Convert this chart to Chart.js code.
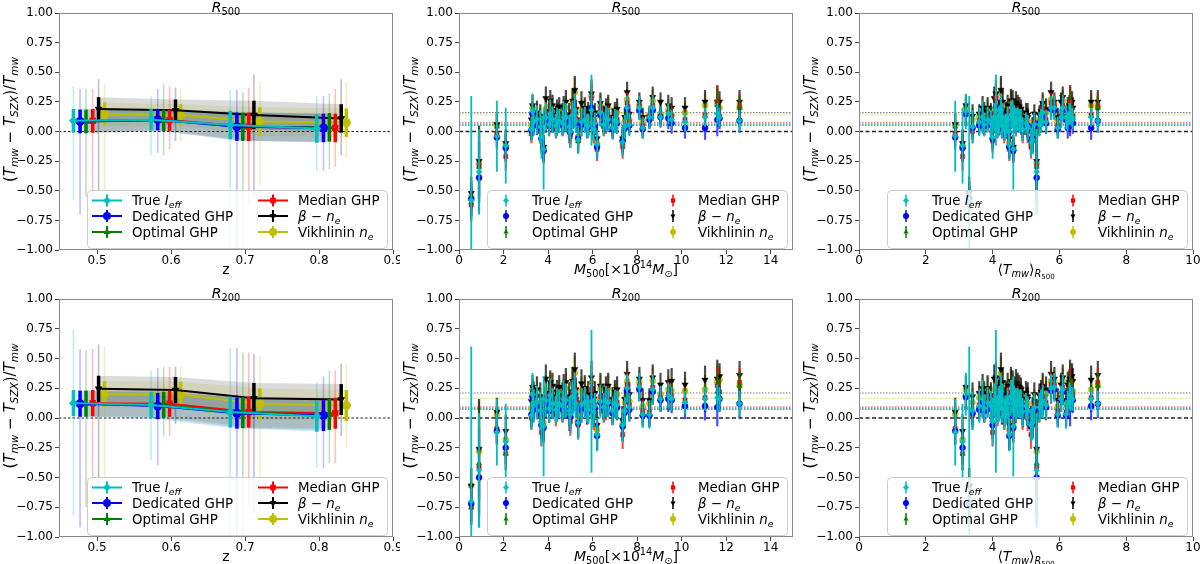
<!DOCTYPE html>
<html>
<head>
<meta charset="utf-8">
<script src="https://cdn.jsdelivr.net/npm/chart.js@4.4.1/dist/chart.umd.min.js"></script>
<style>
  html, body { margin: 0; padding: 0; background: #fff; }
  #wrap { position: relative; width: 1200px; height: 564px; }
  canvas { position: absolute; }
</style>
</head>
<body>
<div id="wrap">
  <canvas id="c1" width="400" height="282" style="left:0;top:0"></canvas>
  <canvas id="c2" width="400" height="282" style="left:400px;top:0"></canvas>
  <canvas id="c3" width="400" height="282" style="left:800px;top:0"></canvas>
  <canvas id="c4" width="400" height="282" style="left:0;top:282px"></canvas>
  <canvas id="c5" width="400" height="282" style="left:400px;top:282px"></canvas>
  <canvas id="c6" width="400" height="282" style="left:800px;top:282px"></canvas>
</div>
<script>
// ---- ticks ----
const yTicks = [-1, -0.75, -0.5, -0.25, 0, 0.25, 0.5, 0.75, 1];
const yTickLabels = ['−1.00', '−0.75', '−0.50', '−0.25', '0.00', '0.25', '0.50', '0.75', '1.00'];
const zTicks = [0.5, 0.6, 0.7, 0.8, 0.9];
const zTickLabels = ['0.5', '0.6', '0.7', '0.8', '0.9'];
const massTicks = [0, 2, 4, 6, 8, 10, 12, 14];
const massTickLabels = ['0', '2', '4', '6', '8', '10', '12', '14'];
const tempTicks = [0, 2, 4, 6, 8, 10];
const tempTickLabels = ['0', '2', '4', '6', '8', '10'];

// ---- redshift bins (left panels), one array per method ----
const zTrue = [0.468, 0.573, 0.680, 0.797];
const zDed  = [0.477, 0.582, 0.689, 0.806];
const zOpt  = [0.485, 0.590, 0.697, 0.814];
const zMed  = [0.494, 0.598, 0.705, 0.822];
const zBeta = [0.502, 0.606, 0.712, 0.830];
const zVik  = [0.510, 0.613, 0.720, 0.837];

const binTrue500 = [0.09, 0.10, 0.055, 0.025];
const binDed500  = [0.085, 0.10, 0.04, 0.03];
const binOpt500  = [0.085, 0.095, 0.04, 0.035];
const binMed500  = [0.09, 0.095, 0.04, 0.03];
const binBeta500 = [0.19, 0.18, 0.14, 0.11];
const binVik500  = [0.145, 0.14, 0.085, 0.075];
const sig500 = [0.10, 0.09, 0.12, 0.12];
const out500Lo = [[-0.58, -0.20, -1.0, -0.33], [-0.70, -0.18, -1.0, -0.33], [-0.55, -0.20, -1.0, -0.32],
                  [-0.55, -0.15, -0.62, -0.30], [-0.50, -0.08, -0.55, -0.20], [-0.50, -0.08, -0.45, -0.22]];
const out500Hi = [[0.38, 0.30, 0.35, 0.30], [0.36, 0.36, 0.35, 0.30], [0.36, 0.40, 0.33, 0.32],
                  [0.36, 0.38, 0.37, 0.36], [0.44, 0.37, 0.48, 0.44], [0.40, 0.36, 0.42, 0.42]];

const binTrue200 = [0.125, 0.11, 0.05, 0.015];
const binDed200  = [0.12, 0.10, 0.04, 0.02];
const binOpt200  = [0.12, 0.11, 0.045, 0.03];
const binMed200  = [0.125, 0.12, 0.05, 0.04];
const binBeta200 = [0.245, 0.235, 0.165, 0.155];
const binVik200  = [0.20, 0.195, 0.12, 0.105];
const sig200 = [0.11, 0.11, 0.13, 0.13];
const out200Lo = [[-0.82, -0.35, -1.0, -0.42], [-0.92, -0.40, -1.0, -0.42], [-0.75, -0.15, -1.0, -0.38],
                  [-0.75, -0.15, -0.75, -0.38], [-0.60, -0.05, -0.80, -0.15], [-0.55, -0.05, -0.80, -0.25]];
const out200Hi = [[0.74, 0.40, 0.59, 0.30], [0.58, 0.42, 0.59, 0.35], [0.57, 0.43, 0.55, 0.40],
                  [0.58, 0.43, 0.55, 0.40], [0.62, 0.43, 0.54, 0.46], [0.60, 0.43, 0.52, 0.45]];

// ---- individual clusters (middle and right panels) ----
const mass = [0.55, 0.90, 1.70, 2.10, 3.25, 3.30, 3.35, 3.50, 3.65, 3.70,
  3.80, 3.90, 4.05, 4.10, 4.20, 4.35, 4.40, 4.50, 4.65, 4.70,
  4.80, 4.95, 5.00, 5.10, 5.20, 5.25, 5.35, 5.50, 5.65, 5.75,
  5.80, 5.95, 6.05, 6.10, 6.20, 6.35, 6.50, 6.60, 6.70, 6.90,
  7.00, 7.10, 7.35, 7.45, 7.55, 7.65, 8.10, 8.25, 8.55, 8.70,
  9.05, 9.40, 9.55, 10.15, 11.05, 11.60, 11.70, 12.60];
const tmw = [3.30, 5.32, 2.88, 3.10, 4.35, 3.20, 3.60, 4.20, 3.40, 4.00,
  4.62, 4.05, 3.75, 4.60, 4.45, 4.15, 4.18, 4.80, 3.95, 3.70,
  4.30, 5.05, 4.48, 4.55, 4.25, 4.85, 5.20, 4.70, 3.85, 4.28,
  4.40, 4.10, 4.90, 5.00, 4.50, 5.50, 5.40, 4.65, 4.75, 5.05,
  5.45, 5.60, 5.15, 4.38, 5.75, 5.25, 5.85, 5.95, 6.20, 6.10,
  6.05, 6.30, 6.40, 6.25, 6.95, 6.32, 6.38, 7.15];

const c500 = [-0.58, -0.34, -0.04, -0.12, 0.02, 0.17, 0.08, 0.10, 0.04, -0.05,
  -0.15, 0.12, 0.06, 0.15, 0.10, 0.05, 0.08, 0.09, 0.07, 0.12,
  0.12, 0.04, 0.00, 0.14, 0.18, 0.09, -0.07, 0.08, 0.10, 0.05,
  0.05, 0.18, 0.02, 0.07, -0.11, 0.16, 0.06, 0.11, 0.10, 0.03,
  0.09, 0.08, -0.09, 0.04, 0.20, 0.06, 0.20, 0.03, 0.12, 0.20,
  0.12, 0.15, 0.10, 0.08, 0.12, 0.15, 0.12, 0.09];
const b500 = [-0.57, -0.39, -0.05, -0.14, 0.01, 0.15, 0.05, 0.07, 0.03, -0.06,
  -0.16, 0.09, 0.05, 0.13, 0.08, 0.06, 0.06, 0.07, 0.06, 0.10,
  0.10, 0.05, -0.01, 0.12, 0.16, 0.07, -0.06, 0.06, 0.09, 0.03,
  0.04, 0.20, 0.03, 0.05, -0.13, 0.14, 0.07, 0.09, 0.09, 0.02,
  0.08, 0.07, -0.08, 0.03, 0.19, 0.05, 0.18, 0.02, 0.10, 0.18,
  0.12, 0.11, 0.07, 0.03, 0.03, 0.10, 0.11, 0.09];
const g500 = [-0.60, -0.30, 0.04, -0.13, 0.00, 0.16, 0.07, 0.10, 0.05, -0.04,
  -0.15, 0.11, 0.07, 0.14, 0.09, 0.04, 0.08, 0.10, 0.08, 0.11,
  0.12, 0.03, 0.01, 0.13, 0.17, 0.09, -0.08, 0.09, 0.11, 0.05,
  0.06, 0.19, 0.01, 0.06, -0.12, 0.16, 0.05, 0.10, 0.11, 0.04,
  0.10, 0.08, -0.10, 0.05, 0.21, 0.07, 0.21, 0.04, 0.11, 0.19,
  0.13, 0.14, 0.11, 0.09, 0.13, 0.22, 0.13, 0.20];
const r500 = [-0.62, -0.29, -0.02, -0.21, -0.02, 0.14, 0.09, 0.08, 0.00, -0.08,
  -0.17, 0.15, 0.04, 0.17, 0.13, 0.02, 0.05, 0.11, 0.05, 0.09,
  0.14, 0.00, -0.04, 0.17, 0.20, 0.11, -0.08, 0.10, 0.12, 0.02,
  0.05, 0.28, -0.01, 0.08, -0.15, 0.19, 0.04, 0.07, 0.13, 0.02,
  0.07, 0.10, -0.13, 0.02, 0.24, 0.08, 0.22, 0.05, 0.13, 0.22,
  0.13, 0.16, 0.13, 0.10, 0.14, 0.25, 0.13, 0.22];
const k500 = [-0.52, -0.25, 0.06, -0.10, 0.10, 0.22, 0.15, 0.16, 0.13, 0.05,
  -0.13, 0.28, 0.17, 0.26, 0.22, 0.14, 0.18, 0.21, 0.15, 0.20,
  0.25, 0.14, 0.08, 0.26, 0.35, 0.19, 0.02, 0.24, 0.20, 0.13,
  0.16, 0.32, 0.12, 0.16, -0.06, 0.24, 0.14, 0.19, 0.22, 0.12,
  0.17, 0.19, -0.06, 0.12, 0.33, 0.15, 0.25, 0.12, 0.12, 0.29,
  0.25, 0.22, 0.20, 0.20, 0.25, 0.25, 0.25, 0.25];
const y500 = [-0.55, -0.27, 0.05, -0.12, 0.05, 0.20, 0.12, 0.14, 0.10, 0.00,
  -0.14, 0.19, 0.12, 0.22, 0.17, 0.10, 0.14, 0.17, 0.13, 0.16,
  0.20, 0.09, 0.04, 0.24, 0.33, 0.15, -0.04, 0.18, 0.18, 0.10,
  0.11, 0.30, 0.07, 0.12, -0.10, 0.22, 0.10, 0.15, 0.20, 0.08,
  0.14, 0.16, -0.08, 0.09, 0.27, 0.10, 0.22, 0.09, 0.14, 0.26,
  0.15, 0.18, 0.14, 0.16, 0.22, 0.23, 0.20, 0.20];
const eTrue500 = [0.88, 0.36, 0.30, 0.32, 0.10, 0.15, 0.12, 0.12, 0.14, 0.18,
  0.34, 0.12, 0.10, 0.12, 0.11, 0.10, 0.12, 0.10, 0.11, 0.14,
  0.12, 0.10, 0.14, 0.12, 0.14, 0.10, 0.12, 0.12, 0.11, 0.10,
  0.10, 0.30, 0.10, 0.09, 0.12, 0.12, 0.10, 0.11, 0.10, 0.10,
  0.10, 0.10, 0.12, 0.10, 0.10, 0.10, 0.10, 0.09, 0.10, 0.11,
  0.09, 0.09, 0.08, 0.08, 0.08, 0.09, 0.08, 0.09];
const e500 = [0.14, 0.30, 0.10, 0.12, 0.08, 0.09, 0.08, 0.10, 0.10, 0.10,
  0.10, 0.10, 0.08, 0.09, 0.09, 0.08, 0.09, 0.08, 0.09, 0.10,
  0.10, 0.10, 0.10, 0.10, 0.12, 0.08, 0.10, 0.10, 0.09, 0.08,
  0.09, 0.12, 0.09, 0.08, 0.10, 0.09, 0.08, 0.09, 0.09, 0.08,
  0.08, 0.09, 0.10, 0.08, 0.09, 0.08, 0.08, 0.08, 0.08, 0.09,
  0.08, 0.09, 0.09, 0.09, 0.10, 0.14, 0.09, 0.10];

const c200 = [-0.70, -0.44, -0.12, -0.20, 0.02, 0.20, 0.10, 0.13, 0.06, -0.03,
  -0.07, 0.15, 0.08, 0.19, 0.12, 0.07, 0.11, 0.12, 0.10, 0.16,
  0.15, 0.06, 0.03, 0.18, 0.22, 0.12, -0.04, 0.11, 0.13, 0.08,
  0.07, 0.14, 0.05, 0.10, -0.14, 0.14, 0.09, 0.14, 0.13, 0.06,
  0.12, 0.11, -0.06, 0.06, 0.25, 0.09, 0.26, 0.03, 0.03, 0.24,
  0.16, 0.19, 0.16, 0.13, 0.16, 0.17, 0.16, 0.12];
const b200 = [-0.72, -0.50, -0.11, -0.25, 0.03, 0.18, 0.07, 0.10, 0.04, -0.06,
  -0.08, 0.12, 0.06, 0.16, 0.10, 0.07, 0.08, 0.09, 0.08, 0.13,
  0.13, 0.06, 0.01, 0.15, 0.20, 0.10, -0.04, 0.08, 0.12, 0.05,
  0.06, 0.16, 0.05, 0.08, -0.15, 0.13, 0.09, 0.12, 0.12, 0.04,
  0.10, 0.09, -0.07, 0.05, 0.23, 0.07, 0.24, 0.02, 0.02, 0.22,
  0.15, 0.16, 0.15, 0.10, 0.10, 0.09, 0.16, 0.12];
const g200 = [-0.75, -0.38, -0.10, -0.30, 0.01, 0.19, 0.09, 0.12, 0.06, -0.03,
  -0.06, 0.14, 0.09, 0.18, 0.11, 0.06, 0.10, 0.13, 0.10, 0.15,
  0.15, 0.05, 0.03, 0.17, 0.21, 0.12, -0.05, 0.12, 0.14, 0.07,
  0.08, 0.15, 0.03, 0.09, -0.15, 0.15, 0.07, 0.13, 0.14, 0.06,
  0.12, 0.10, -0.08, 0.07, 0.25, 0.09, 0.26, 0.04, 0.03, 0.24,
  0.16, 0.18, 0.17, 0.14, 0.17, 0.22, 0.22, 0.27];
const r200 = [-0.75, -0.41, -0.09, -0.30, 0.00, 0.17, 0.11, 0.10, 0.02, -0.12,
  -0.09, 0.18, 0.06, 0.20, 0.16, 0.03, 0.07, 0.14, 0.07, 0.12,
  0.17, 0.01, -0.03, 0.21, 0.25, 0.14, -0.06, 0.13, 0.15, 0.04,
  0.07, 0.24, 0.01, 0.11, -0.15, 0.18, 0.06, 0.09, 0.16, 0.04,
  0.10, 0.13, -0.14, 0.04, 0.28, 0.11, 0.27, 0.06, 0.05, 0.26,
  0.17, 0.20, 0.19, 0.15, 0.17, 0.27, 0.22, 0.30];
const k200 = [-0.57, -0.26, 0.05, -0.11, 0.14, 0.26, 0.21, 0.24, 0.18, 0.08,
  0.03, 0.33, 0.21, 0.30, 0.27, 0.18, 0.22, 0.26, 0.19, 0.25,
  0.30, 0.18, 0.12, 0.31, 0.41, 0.24, 0.06, 0.29, 0.25, 0.17,
  0.20, 0.34, 0.16, 0.21, -0.06, 0.27, 0.19, 0.24, 0.27, 0.16,
  0.22, 0.24, -0.02, 0.16, 0.37, 0.20, 0.33, 0.15, 0.15, 0.34,
  0.28, 0.30, 0.31, 0.28, 0.32, 0.33, 0.35, 0.36];
const y200 = [-0.57, -0.28, 0.03, -0.18, 0.08, 0.24, 0.17, 0.19, 0.13, 0.02,
  -0.04, 0.24, 0.16, 0.28, 0.21, 0.14, 0.18, 0.22, 0.17, 0.21,
  0.25, 0.12, 0.08, 0.29, 0.38, 0.20, -0.01, 0.23, 0.23, 0.13,
  0.15, 0.30, 0.10, 0.16, -0.10, 0.25, 0.13, 0.19, 0.25, 0.12,
  0.19, 0.20, -0.05, 0.13, 0.31, 0.14, 0.30, 0.10, 0.12, 0.31,
  0.20, 0.24, 0.23, 0.23, 0.24, 0.30, 0.32, 0.27];
const eTrue200 = [1.30, 0.48, 0.28, 0.32, 0.12, 0.18, 0.14, 0.14, 0.16, 0.20,
  0.42, 0.14, 0.12, 0.14, 0.13, 0.12, 0.14, 0.12, 0.13, 0.16,
  0.14, 0.12, 0.16, 0.14, 0.16, 0.12, 0.14, 0.14, 0.13, 0.12,
  0.12, 0.60, 0.12, 0.11, 0.14, 0.14, 0.12, 0.13, 0.12, 0.12,
  0.12, 0.12, 0.14, 0.12, 0.12, 0.12, 0.12, 0.11, 0.12, 0.13,
  0.11, 0.11, 0.10, 0.10, 0.10, 0.11, 0.10, 0.11];
const e200 = [0.15, 0.42, 0.12, 0.14, 0.10, 0.10, 0.10, 0.11, 0.12, 0.12,
  0.12, 0.12, 0.10, 0.10, 0.11, 0.10, 0.10, 0.10, 0.11, 0.12,
  0.12, 0.12, 0.12, 0.12, 0.14, 0.10, 0.12, 0.12, 0.11, 0.10,
  0.11, 0.14, 0.11, 0.10, 0.12, 0.11, 0.10, 0.11, 0.11, 0.10,
  0.10, 0.11, 0.12, 0.10, 0.11, 0.10, 0.10, 0.10, 0.10, 0.11,
  0.10, 0.11, 0.11, 0.11, 0.12, 0.16, 0.11, 0.12];

// mean of each method (dotted horizontal lines)
const mean500 = [0.06, 0.052, 0.065, 0.077, 0.159, 0.14];
const mean200 = [0.078, 0.072, 0.085, 0.093, 0.21, 0.165];

// ---- series look ----
const colors = ['#00bfbf', '#0000ff', '#008000', '#ff0000', '#000000', '#bfbf00'];
const styles = ['rectRot', 'circle', 'triangle', 'rect', 'triangle', 'circle'];
const rots = [0, 0, 0, 0, 180, 0];
const labels = [
  [{t: 'True '}, {t: 'I', i: 1}, {t: 'eff', i: 1, s: 1}],
  [{t: 'Dedicated GHP'}],
  [{t: 'Optimal GHP'}],
  [{t: 'Median GHP'}],
  [{t: 'β', i: 1}, {t: ' − '}, {t: 'n', i: 1}, {t: 'e', i: 1, s: 1}],
  [{t: 'Vikhlinin '}, {t: 'n', i: 1}, {t: 'e', i: 1, s: 1}]
];
const yLabel = [{t: '('}, {t: 'T', i: 1}, {t: 'mw', i: 1, s: 1}, {t: ' − '}, {t: 'T', i: 1},
  {t: 'SZX', i: 1, s: 1}, {t: ')/'}, {t: 'T', i: 1}, {t: 'mw', i: 1, s: 1}];
const zLabel = [{t: 'z'}];
const massLabel = [{t: 'M', i: 1}, {t: '500', s: 1}, {t: '[×10'}, {t: '14', s: -1}, {t: 'M', i: 1}, {t: '⊙', s: 1}, {t: ']'}];
const tempLabel = [{t: '⟨'}, {t: 'T', i: 1}, {t: 'mw', i: 1, s: 1}, {t: '⟩'}, {t: 'R', i: 1, s: 1}, {t: '500', s: 2}];

function rgba(hex, a) {
  const n = parseInt(hex.slice(1), 16);
  return `rgba(${n >> 16},${(n >> 8) & 255},${n & 255},${a})`;
}

// ---- rich text (italics, sub/superscripts) ----
const FONT = '"DejaVu Sans"';
function segFont(g, size) {
  const k = g.s === 1 || g.s === -1 ? 0.7 : g.s === 2 ? 0.5 : 1;
  return (g.i ? 'italic ' : '') + (size * k).toFixed(2) + 'px ' + FONT;
}
function richWidth(ctx, segs, size) {
  let w = 0;
  segs.forEach(g => { ctx.font = segFont(g, size); w += ctx.measureText(g.t).width; });
  return w;
}
function drawRich(ctx, segs, x, y, size, align) {
  ctx.save();
  ctx.textBaseline = 'alphabetic';
  ctx.textAlign = 'left';
  ctx.fillStyle = '#000';
  let cx = align === 'center' ? x - richWidth(ctx, segs, size) / 2 : x;
  segs.forEach(g => {
    ctx.font = segFont(g, size);
    const dy = g.s === 1 ? 0.22 * size : g.s === 2 ? 0.36 * size : g.s === -1 ? -0.4 * size : 0;
    ctx.fillText(g.t, cx, y + dy);
    cx += ctx.measureText(g.t).width;
  });
  ctx.restore();
}

// ---- error bars ----
const errorBars = {
  id: 'errorBars',
  beforeDatasetsDraw(chart) {
    const {ctx, chartArea: a, scales: {x, y}} = chart;
    ctx.save();
    ctx.beginPath(); ctx.rect(a.left, a.top, a.width, a.height); ctx.clip();
    for (let k = chart.data.datasets.length - 1; k >= 0; k--) {
      const ds = chart.data.datasets[k];
      if (!ds.outLo) continue;
      ctx.strokeStyle = ds.faint; ctx.lineWidth = 1.6;
      ds.data.forEach((p, i) => {
        const px = x.getPixelForValue(p.x);
        ctx.beginPath();
        ctx.moveTo(px, y.getPixelForValue(ds.outLo[i]));
        ctx.lineTo(px, y.getPixelForValue(ds.outHi[i]));
        ctx.stroke();
      });
    }
    ctx.restore();
  },
  beforeDatasetDraw(chart, args) {
    const ds = chart.data.datasets[args.index];
    if (!ds.errs) return;
    const {ctx, chartArea: a, scales: {x, y}} = chart;
    ctx.save();
    ctx.beginPath(); ctx.rect(a.left, a.top, a.width, a.height); ctx.clip();
    ctx.strokeStyle = ds.errColor; ctx.lineWidth = ds.errWidth;
    ds.data.forEach((p, i) => {
      const px = x.getPixelForValue(p.x);
      ctx.beginPath();
      ctx.moveTo(px, y.getPixelForValue(p.y - ds.errs[i]));
      ctx.lineTo(px, y.getPixelForValue(p.y + ds.errs[i]));
      ctx.stroke();
    });
    ctx.restore();
  }
};

// ---- frame, titles, labels, legend, reference lines ----
function deco(meta) {
  return {
    id: 'deco',
    beforeDatasetsDraw(chart) {
      const {ctx, chartArea: a, scales: {y}} = chart;
      ctx.save();
      ctx.beginPath(); ctx.rect(a.left, a.top, a.width, a.height); ctx.clip();
      if (meta.means) {
        meta.means.forEach((m, s) => {
          const py = y.getPixelForValue(m);
          ctx.strokeStyle = rgba(colors[s], 0.5); ctx.lineWidth = 1.2; ctx.setLineDash([1.5, 1.5]);
          ctx.beginPath(); ctx.moveTo(a.left, py); ctx.lineTo(a.right, py); ctx.stroke();
        });
      }
      const p0 = y.getPixelForValue(0);
      ctx.strokeStyle = '#222';
      ctx.lineWidth = meta.kind === 'z' ? 1.1 : 1.5;
      ctx.setLineDash(meta.kind === 'z' ? [2.5, 2] : [4, 2.5]);
      ctx.beginPath(); ctx.moveTo(a.left, p0); ctx.lineTo(a.right, p0); ctx.stroke();
      ctx.restore();
    },
    afterDraw(chart) {
      const {ctx, chartArea: a} = chart;
      ctx.save();
      ctx.strokeStyle = '#8a8a8a'; ctx.lineWidth = 1;
      ctx.strokeRect(Math.round(a.left) + 0.5, Math.round(a.top) + 0.5, Math.round(a.width) - 1, Math.round(a.height) - 1);
      ctx.restore();

      drawRich(ctx, meta.title, (a.left + a.right) / 2, a.top - 1.5, 14, 'center');
      drawRich(ctx, meta.xlabel, (a.left + a.right) / 2, a.bottom + 23.5, 14, 'center');
      ctx.save();
      ctx.translate(15, (a.top + a.bottom) / 2 - 12);
      ctx.rotate(-Math.PI / 2);
      drawRich(ctx, yLabel, 0, 0, 15, 'center');
      ctx.restore();

      // legend
      const bx = a.left + 28, bw = a.right - 6 - bx, by = a.bottom - 60, bh = 58;
      ctx.save();
      ctx.fillStyle = 'rgba(255,255,255,0.8)';
      ctx.strokeStyle = '#cccccc'; ctx.lineWidth = 1;
      ctx.beginPath(); ctx.roundRect(bx + 0.5, by + 0.5, bw, bh, 4); ctx.fill(); ctx.stroke();
      const rowsY = [a.bottom - 49.5, a.bottom - 34, a.bottom - 18];
      for (let s = 0; s < 6; s++) {
        const col = s < 3 ? 0 : 1, cy = rowsY[s % 3];
        const tx = a.left + (col ? 239 : 73);
        ctx.fillStyle = colors[s]; ctx.strokeStyle = colors[s];
        if (meta.kind === 'z') {
          const x0 = a.left + (col ? 199 : 33), x1 = x0 + 30, xm = (x0 + x1) / 2;
          ctx.lineWidth = 2;
          ctx.beginPath(); ctx.moveTo(x0, cy); ctx.lineTo(x1, cy); ctx.stroke();
          ctx.beginPath(); ctx.moveTo(xm, cy - 6); ctx.lineTo(xm, cy + 6); ctx.stroke();
          Chart.helpers.drawPoint(ctx, {pointStyle: styles[s], rotation: rots[s], radius: 4, borderWidth: 0}, xm, cy);
        } else {
          const xm = a.left + (col ? 214 : 47);
          ctx.lineWidth = 1.5;
          ctx.beginPath(); ctx.moveTo(xm, cy - 6); ctx.lineTo(xm, cy + 6); ctx.stroke();
          Chart.helpers.drawPoint(ctx, {pointStyle: styles[s], rotation: rots[s], radius: 3, borderWidth: 0}, xm, cy);
        }
        drawRich(ctx, labels[s], tx, cy + 4.8, 13.4, 'left');
      }
      ctx.restore();
    }
  };
}

function baseOptions(row, xmin, xmax, xticks, xlabels) {
  const tickFont = {family: 'DejaVu Sans', size: 12};
  return {
    responsive: false, animation: false, events: [],
    layout: {padding: {top: row ? 17 : 13, right: 7, left: 0, bottom: 0}},
    plugins: {
      legend: {display: false}, tooltip: {enabled: false},
      filler: {propagate: false, drawTime: 'beforeDatasetsDraw'}
    },
    scales: {
      x: {
        type: 'linear', min: xmin, max: xmax,
        afterBuildTicks: s => { s.ticks = xticks.map(v => ({value: v})); },
        afterFit: s => { s.height = row ? 27 : 32; s.paddingLeft = 0; s.paddingRight = 0; },
        ticks: {autoSkip: false, maxRotation: 0, padding: 0, color: '#000', font: tickFont, callback: (v, i) => xlabels[i]},
        grid: {drawOnChartArea: false, drawTicks: true, tickLength: 4, color: '#444'},
        border: {display: false}
      },
      y: {
        type: 'linear', min: -1, max: 1,
        afterBuildTicks: s => { s.ticks = yTicks.map(v => ({value: v})); },
        afterFit: s => { s.width = 59; s.paddingTop = 0; s.paddingBottom = 0; },
        ticks: {autoSkip: false, padding: 2, color: '#000', font: tickFont, callback: (v, i) => yTickLabels[i]},
        grid: {drawOnChartArea: false, drawTicks: true, tickLength: 4, color: '#444'},
        border: {display: false}
      }
    }
  };
}

function zPanel(id, row, bins, sig, outLo, outHi, title) {
  const zs = [zTrue, zDed, zOpt, zMed, zBeta, zVik];
  const datasets = [];
  for (let s = 0; s < 6; s++) {
    datasets.push({
      data: zs[s].map((x, i) => ({x, y: bins[s][i]})),
      showLine: true, borderColor: colors[s], borderWidth: 2, backgroundColor: colors[s],
      pointStyle: styles[s], pointRotation: rots[s], pointRadius: 4.5, pointBorderWidth: 0,
      errs: sig, errColor: colors[s], errWidth: 3.5,
      outLo: outLo[s], outHi: outHi[s], faint: rgba(colors[s], 0.25), order: s
    });
  }
  for (let s = 0; s < 6; s++) {
    datasets.push({
      data: zs[s].map((x, i) => ({x, y: bins[s][i] + sig[i]})),
      showLine: true, borderColor: 'rgba(0,0,0,0)', borderWidth: 0, pointRadius: 0, fill: false, order: 20 + s
    });
    datasets.push({
      data: zs[s].map((x, i) => ({x, y: bins[s][i] - sig[i]})),
      showLine: true, borderColor: 'rgba(0,0,0,0)', borderWidth: 0, pointRadius: 0,
      fill: '-1', backgroundColor: rgba(colors[s], s === 1 ? 0.09 : 0.14), order: 20 + s
    });
  }
  new Chart(document.getElementById(id), {
    type: 'scatter',
    data: {datasets},
    options: baseOptions(row, 0.4485, 0.9, zTicks, zTickLabels),
    plugins: [errorBars, deco({kind: 'z', title, xlabel: zLabel})]
  });
}

function sPanel(id, row, xs, vals, eTrue, e, means, xmax, xticks, xlabels, xlabel, title) {
  const datasets = vals.map((v, s) => ({
    data: xs.map((x, i) => ({x, y: v[i]})),
    backgroundColor: colors[s], borderColor: colors[s], pointBorderWidth: 0.5,
    pointStyle: styles[s], pointRotation: rots[s], pointRadius: s === 4 ? 3.6 : 3,
    errs: s === 0 ? eTrue : e, errColor: s === 0 ? colors[s] : rgba(colors[s], 0.7),
    errWidth: s === 0 ? 1.8 : 2.2,
    order: s
  }));
  new Chart(document.getElementById(id), {
    type: 'scatter',
    data: {datasets},
    options: baseOptions(row, 0, xmax, xticks, xlabels),
    plugins: [errorBars, deco({kind: 's', title, xlabel, means})]
  });
}

const t500 = [{t: 'R', i: 1}, {t: '500', s: 1}];
const t200 = [{t: 'R', i: 1}, {t: '200', s: 1}];
const vals500 = [c500, b500, g500, r500, k500, y500];
const vals200 = [c200, b200, g200, r200, k200, y200];

zPanel('c1', 0, [binTrue500, binDed500, binOpt500, binMed500, binBeta500, binVik500], sig500, out500Lo, out500Hi, t500);
sPanel('c2', 0, mass, vals500, eTrue500, e500, mean500, 15, massTicks, massTickLabels, massLabel, t500);
sPanel('c3', 0, tmw, vals500, eTrue500, e500, mean500, 10, tempTicks, tempTickLabels, tempLabel, t500);
zPanel('c4', 1, [binTrue200, binDed200, binOpt200, binMed200, binBeta200, binVik200], sig200, out200Lo, out200Hi, t200);
sPanel('c5', 1, mass, vals200, eTrue200, e200, mean200, 15, massTicks, massTickLabels, massLabel, t200);
sPanel('c6', 1, tmw, vals200, eTrue200, e200, mean200, 10, tempTicks, tempTickLabels, tempLabel, t200);
</script>
</body>
</html>
